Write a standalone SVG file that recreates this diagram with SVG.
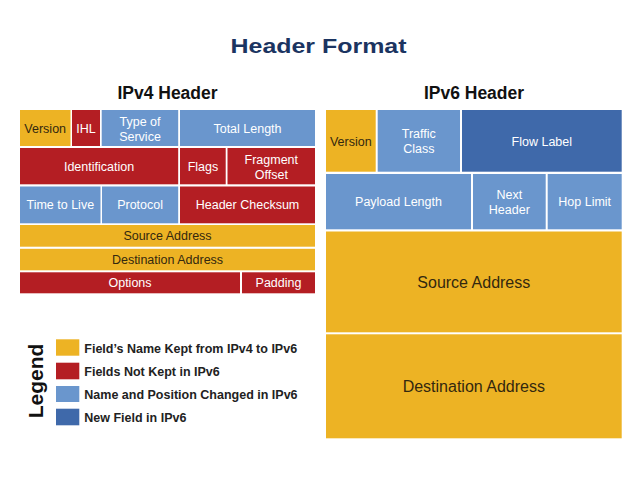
<svg xmlns="http://www.w3.org/2000/svg" width="638" height="479" viewBox="0 0 638 479">
<style>
.y{fill:#EDB324}
.r{fill:#B41E23}
.b{fill:#6A96CD}
.d{fill:#3F69AA}
text{font-family:"Liberation Sans",Arial,sans-serif}
.w{fill:#ffffff;font-size:12.5px;text-anchor:middle}
.k{fill:#33280f;font-size:12.5px;text-anchor:middle}
.k6{fill:#33280f;font-size:16px;text-anchor:middle}
.h{fill:#111111;font-size:17.5px;font-weight:bold;text-anchor:middle}
.lg{fill:#222222;font-size:12.5px;font-weight:bold}
</style>
<rect width="638" height="479" fill="#ffffff"/>
<text x="318.5" y="52.5" font-family="Lato,'Open Sans','Liberation Sans',sans-serif" font-size="21" font-weight="bold" fill="#1b3461" text-anchor="middle" textLength="176" lengthAdjust="spacingAndGlyphs">Header Format</text>

<g id="ipv4">
<text class="h" x="167.5" y="99">IPv4 Header</text>
<g id="v4-version"><rect class="y" x="20" y="110" width="50.5" height="36"/><text class="k" x="45.2" y="132.5">Version</text></g>
<g id="v4-ihl"><rect class="r" x="72" y="110" width="28" height="36"/><text class="w" x="86" y="132.5">IHL</text></g>
<g id="v4-tos"><rect class="b" x="101.7" y="110" width="76.5" height="36"/><text class="w" x="140" y="125.5">Type of</text><text class="w" x="140" y="140.5">Service</text></g>
<g id="v4-totlen"><rect class="b" x="180" y="110" width="135" height="36"/><text class="w" x="247.5" y="132.5">Total Length</text></g>
<g id="v4-ident"><rect class="r" x="20" y="148" width="158.2" height="36.3"/><text class="w" x="99" y="170.5">Identification</text></g>
<g id="v4-flags"><rect class="r" x="180" y="148" width="45.7" height="36.3"/><text class="w" x="203" y="170.5">Flags</text></g>
<g id="v4-frag"><rect class="r" x="227.5" y="148" width="87.5" height="36.3"/><text class="w" x="271.3" y="163.5">Fragment</text><text class="w" x="271.3" y="178.5">Offset</text></g>
<g id="v4-ttl"><rect class="b" x="20" y="186.5" width="80.5" height="36.8"/><text class="w" x="60.3" y="209.3">Time to Live</text></g>
<g id="v4-proto"><rect class="b" x="102" y="186.5" width="76.2" height="36.8"/><text class="w" x="140.1" y="209.3">Protocol</text></g>
<g id="v4-cksum"><rect class="r" x="180" y="186.5" width="135" height="36.8"/><text class="w" x="247.5" y="209.3">Header Checksum</text></g>
<g id="v4-src"><rect class="y" x="20" y="225" width="295" height="21.7"/><text class="k" x="167.5" y="240.3">Source Address</text></g>
<g id="v4-dst"><rect class="y" x="20" y="248.8" width="295" height="21.5"/><text class="k" x="167.5" y="264">Destination Address</text></g>
<g id="v4-opt"><rect class="r" x="20" y="272.3" width="220" height="21"/><text class="w" x="130" y="287.3">Options</text></g>
<g id="v4-pad"><rect class="r" x="242" y="272.3" width="73" height="21"/><text class="w" x="278.5" y="287.3">Padding</text></g>
</g>

<g id="ipv6">
<text class="h" x="474" y="99">IPv6 Header</text>
<g id="v6-version"><rect class="y" x="326" y="110" width="49.7" height="61.7"/><text class="k" x="350.8" y="145.5">Version</text></g>
<g id="v6-tclass"><rect class="b" x="377.7" y="110" width="82.3" height="61.7"/><text class="w" x="418.8" y="138">Traffic</text><text class="w" x="418.8" y="152.5">Class</text></g>
<g id="v6-flow"><rect class="d" x="462" y="110" width="159.7" height="61.7"/><text class="w" x="541.8" y="145.5">Flow Label</text></g>
<g id="v6-paylen"><rect class="b" x="326" y="174" width="145" height="55.3"/><text class="w" x="398.5" y="206">Payload Length</text></g>
<g id="v6-next"><rect class="b" x="473" y="174" width="72.7" height="55.3"/><text class="w" x="509.3" y="198.5">Next</text><text class="w" x="509.3" y="214">Header</text></g>
<g id="v6-hop"><rect class="b" x="547.7" y="174" width="74" height="55.3"/><text class="w" x="584.7" y="206">Hop Limit</text></g>
<g id="v6-src"><rect class="y" x="326" y="231.5" width="295.7" height="100.8"/><text class="k6" x="473.8" y="287.5">Source Address</text></g>
<g id="v6-dst"><rect class="y" x="326" y="334.3" width="295.7" height="104"/><text class="k6" x="473.8" y="392">Destination Address</text></g>
</g>

<g id="legend">
<text transform="translate(43,381) rotate(-90)" font-size="21" font-weight="bold" fill="#111111" text-anchor="middle">Legend</text>
<rect class="y" x="56" y="339.3" width="23.3" height="16.4"/>
<rect class="r" x="56" y="362.7" width="23.3" height="16.6"/>
<rect class="b" x="56" y="386" width="23.3" height="16"/>
<rect class="d" x="56" y="408.7" width="23.3" height="16.6"/>
<text class="lg" x="84.3" y="353">Field’s Name Kept from IPv4 to IPv6</text>
<text class="lg" x="84.3" y="376">Fields Not Kept in IPv6</text>
<text class="lg" x="84.3" y="399">Name and Position Changed in IPv6</text>
<text class="lg" x="84.3" y="422">New Field in IPv6</text>
</g>
<g id="connectors"/>
</svg>
